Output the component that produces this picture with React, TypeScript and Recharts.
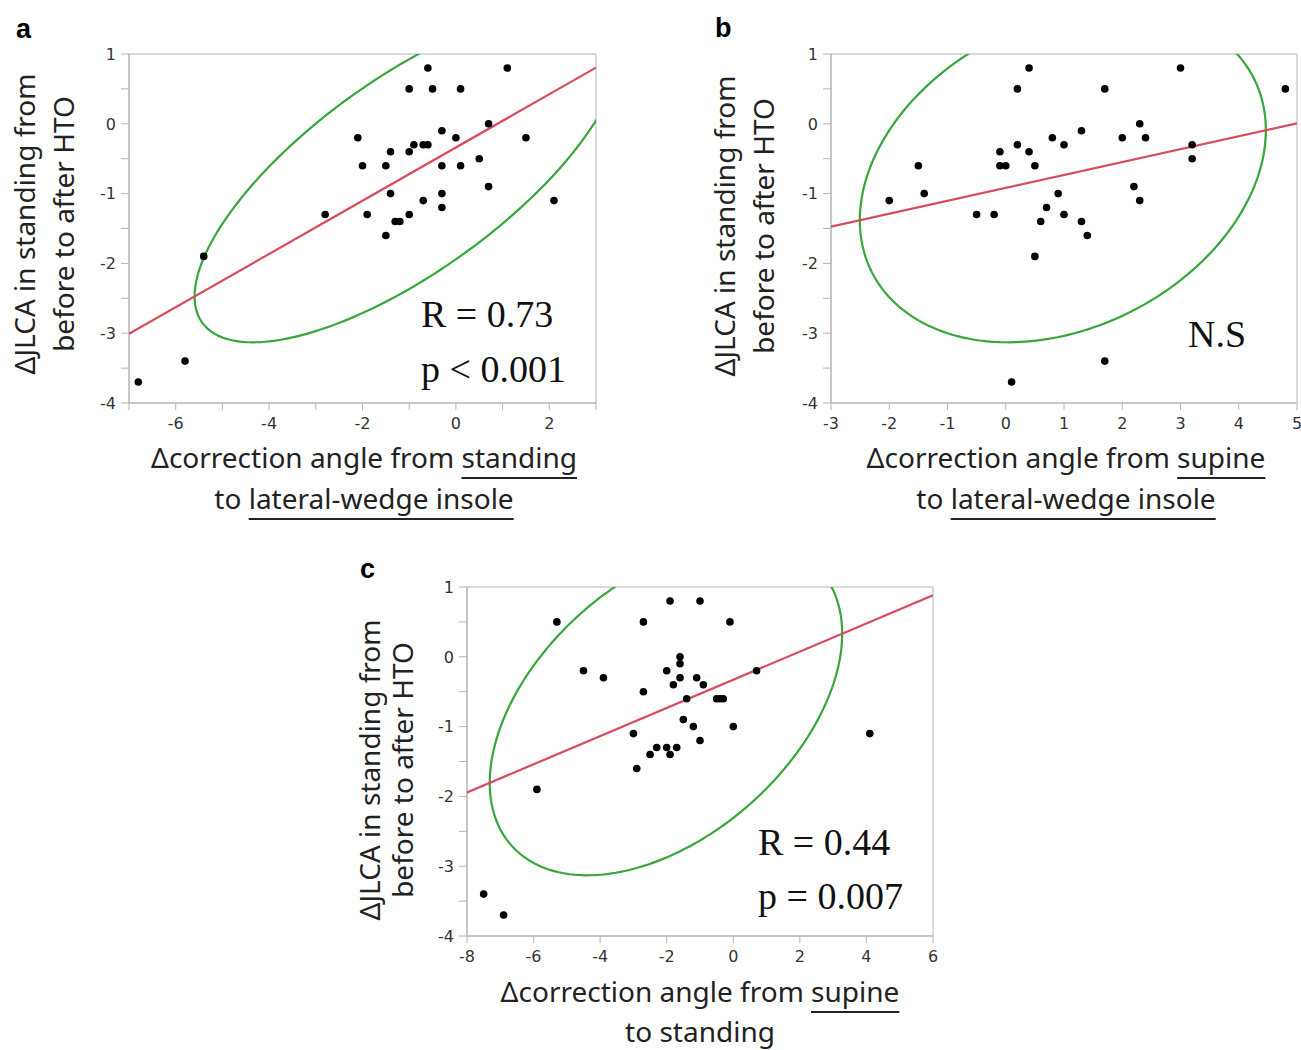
import React from "react";
import {
  ScatterChart, Scatter, XAxis, YAxis, ReferenceArea,
} from "recharts";

// panel a: correction angle standing -> insole vs dJLCA
const aX = [-0.6, 1.1, -1.0, -0.5, 0.1, 0.7, -2.1, -0.3, 0.0, 1.5, -0.9, -0.7, -0.6, -1.4, -1.0, -2.0, -1.5, -0.3, 0.1, 0.5, 0.7, -1.4, -0.3, -0.7, -0.3, 2.1, -2.8, -1.9, -1.0, -1.3, -1.2, -1.5, -5.4, -5.8, -6.8];
const aY = [0.8, 0.8, 0.5, 0.5, 0.5, 0.0, -0.2, -0.1, -0.2, -0.2, -0.3, -0.3, -0.3, -0.4, -0.4, -0.6, -0.6, -0.6, -0.6, -0.5, -0.9, -1.0, -1.0, -1.1, -1.2, -1.1, -1.3, -1.3, -1.3, -1.4, -1.4, -1.6, -1.9, -3.4, -3.7];

// panel b: supine -> insole
const bX = [0.4, 3.0, 0.2, 1.7, 4.8, 2.3, 1.3, 0.8, 2.0, 2.4, 0.2, 1.0, 3.2, -0.1, 0.4, -1.5, -0.1, 0.0, 0.5, 3.2, 2.2, -2.0, -1.4, 0.9, 2.3, 0.7, -0.5, -0.2, 1.0, 0.6, 1.3, 1.4, 0.5, 1.7, 0.1];
const bY = [0.8, 0.8, 0.5, 0.5, 0.5, 0.0, -0.1, -0.2, -0.2, -0.2, -0.3, -0.3, -0.3, -0.4, -0.4, -0.6, -0.6, -0.6, -0.6, -0.5, -0.9, -1.1, -1.0, -1.0, -1.1, -1.2, -1.3, -1.3, -1.3, -1.4, -1.4, -1.6, -1.9, -3.4, -3.7];

// panel c: supine -> standing
const cX = [-1.9, -1.0, -5.3, -2.7, -0.1, -1.6, -1.6, -4.5, -2.0, 0.7, -3.9, -1.6, -1.1, -1.8, -0.9, -2.7, -1.4, -0.5, -0.4, -0.3, -1.5, -1.2, 0.0, -3.0, -1.0, -2.3, -2.0, -1.7, -2.5, -1.9, -2.9, -5.9, -7.5, -6.9, 4.1];
const cY = [0.8, 0.8, 0.5, 0.5, 0.5, 0.0, -0.1, -0.2, -0.2, -0.2, -0.3, -0.3, -0.3, -0.4, -0.4, -0.5, -0.6, -0.6, -0.6, -0.6, -0.9, -1.0, -1.0, -1.1, -1.2, -1.3, -1.3, -1.3, -1.4, -1.4, -1.6, -1.9, -3.4, -3.7, -1.1];

const aXTicks = [-7, -6, -5, -4, -3, -2, -1, 0, 1, 2, 3];
const bXTicks = [-3, -2, -1, 0, 1, 2, 3, 4, 5];
const cXTicks = [-8, -6, -4, -2, 0, 2, 4, 6];
const yTicks = [-4, -3.5, -3, -2.5, -2, -1.5, -1, -0.5, 0, 0.5, 1];

const RED = "#d74c5c";
const GREEN = "#37a63b";
const FRAME = "#b4b4b4";
const CHI2_95 = 5.991;
const TITLE_FONT = "'Noto Sans', sans-serif";
const TICK_FONT = "'DejaVu Sans', Verdana, sans-serif";

function fitStats(xs: number[], ys: number[]) {
  const n = xs.length;
  const mx = xs.reduce((s, v) => s + v, 0) / n;
  const my = ys.reduce((s, v) => s + v, 0) / n;
  let sxx = 0, syy = 0, sxy = 0;
  for (let i = 0; i < n; i++) {
    sxx += (xs[i] - mx) ** 2;
    syy += (ys[i] - my) ** 2;
    sxy += (xs[i] - mx) * (ys[i] - my);
  }
  return { mx, my, sx: Math.sqrt(sxx / (n - 1)), sy: Math.sqrt(syy / (n - 1)), r: sxy / Math.sqrt(sxx * syy), slope: sxy / sxx };
}

// 95% bivariate normal density ellipse
function ellipse(xs: number[], ys: number[]) {
  const { mx, my, sx, sy, r } = fitStats(xs, ys);
  const k = Math.sqrt(CHI2_95);
  const pts = [];
  for (let i = 0; i <= 240; i++) {
    const t = (i / 240) * Math.PI * 2;
    pts.push({
      x: mx + k * sx * Math.cos(t),
      y: my + k * sy * (r * Math.cos(t) + Math.sqrt(1 - r * r) * Math.sin(t)),
    });
  }
  return pts;
}

function fitLine(xs: number[], ys: number[], domain: number[]) {
  const { mx, my, slope } = fitStats(xs, ys);
  return domain.map((x) => ({ x, y: my + slope * (x - mx) }));
}

const noDot = () => <g />;
const dot = (p: any) => <circle cx={p.cx} cy={p.cy} r={3.8} fill="#000" />;

const XTick = ({ x, y, payload, labelEven }: any) => {
  const v = payload.value;
  if (labelEven && v % 2 !== 0) return <g />;
  return (
    <text x={x} y={y} dy="0.71em" textAnchor="middle" fontSize={16} fill="#333" fontFamily={TICK_FONT}>{v}</text>
  );
};

const YTick = ({ x, y, payload }: any) => {
  const v = payload.value;
  if (!Number.isInteger(v)) return <g />;
  return (
    <text x={x} y={y} dy="0.36em" textAnchor="end" fontSize={16} fill="#333" fontFamily={TICK_FONT}>{v}</text>
  );
};

interface PanelProps {
  xs: number[];
  ys: number[];
  xDomain: number[];
  xTicks: number[];
  labelEven?: boolean;
  left: number;
  top: number;
  w: number;
  h: number;
}

function Panel({ xs, ys, xDomain, xTicks, labelEven, left, top, w, h }: PanelProps) {
  const pts = xs.map((x, i) => ({ x, y: ys[i] }));
  const ell = ellipse(xs, ys);
  const reg = fitLine(xs, ys, xDomain);
  const yW = 60, mTop = 13, mRight = 12, xH = 40;
  return (
    <div style={{ position: "absolute", left: left - yW, top: top - mTop }}>
      <ScatterChart width={yW + w + mRight} height={mTop + h + xH} margin={{ top: mTop, right: mRight, left: 0, bottom: 0 }}>
        <XAxis
          type="number" dataKey="x" domain={xDomain} ticks={xTicks} allowDataOverflow
          height={xH} tickSize={7} tickMargin={8} stroke={FRAME}
          tick={<XTick labelEven={labelEven} />}
        />
        <YAxis
          type="number" dataKey="y" domain={[-4, 1]} ticks={yTicks} allowDataOverflow
          width={yW} tickSize={8} tickMargin={5} stroke={FRAME} tick={<YTick />}
        />
        <ReferenceArea x1={xDomain[0]} x2={xDomain[1]} y1={-4} y2={1} fill="none" stroke={FRAME} strokeWidth={1} />
        <Scatter data={ell} line={{ stroke: GREEN, strokeWidth: 2.2 }} shape={noDot} isAnimationActive={false} />
        <Scatter data={reg} line={{ stroke: RED, strokeWidth: 2.2 }} shape={noDot} isAnimationActive={false} />
        <Scatter data={pts} shape={dot} isAnimationActive={false} />
      </ScatterChart>
    </div>
  );
}

function XTitle({ cx, top, lh, children }: { cx: number; top: number; lh: number; children: React.ReactNode }) {
  return (
    <div style={{
      position: "absolute", left: cx - 300, top, width: 600, textAlign: "center",
      fontFamily: TITLE_FONT, fontSize: 28, lineHeight: `${lh}px`, color: "#222", whiteSpace: "nowrap",
    }}>
      {children}
    </div>
  );
}

function YTitle({ cx, cy, lh }: { cx: number; cy: number; lh: number }) {
  return (
    <div style={{
      position: "absolute", left: cx - 200, top: cy - lh, width: 400, height: lh * 2,
      textAlign: "center", fontFamily: TITLE_FONT, fontSize: 28, lineHeight: `${lh}px`,
      color: "#222", transform: "rotate(-90deg)", whiteSpace: "nowrap",
    }}>
      ΔJLCA in standing from<br />before to after HTO
    </div>
  );
}

const U = ({ children }: { children: React.ReactNode }) => (
  <span style={{ textDecoration: "underline", textUnderlineOffset: "9px", textDecorationThickness: "1.5px" }}>{children}</span>
);

export default function App() {
  return (
    <div style={{ position: "absolute", left: 0, top: 0, width: 1301, height: 1050, background: "#fff", overflow: "hidden" }}>
      <Panel xs={aX} ys={aY} xDomain={[-7, 3]} xTicks={aXTicks} labelEven left={129} top={54} w={467} h={349} />
      <Panel xs={bX} ys={bY} xDomain={[-3, 5]} xTicks={bXTicks} left={831} top={54} w={466} h={349} />
      <Panel xs={cX} ys={cY} xDomain={[-8, 6]} xTicks={cXTicks} left={467} top={587} w={466} h={349} />

      <YTitle cx={44} cy={224} lh={39} />
      <YTitle cx={744} cy={226} lh={39} />
      <YTitle cx={386} cy={770} lh={33} />

      <XTitle cx={364} top={437} lh={41}>
        Δcorrection angle from <U>standing</U><br />to <U>lateral-wedge insole</U>
      </XTitle>
      <XTitle cx={1066} top={437} lh={41}>
        Δcorrection angle from <U>supine</U><br />to <U>lateral-wedge insole</U>
      </XTitle>
      <XTitle cx={700} top={971} lh={40}>
        Δcorrection angle from <U>supine</U><br />to standing
      </XTitle>

      <svg width={1301} height={1050} style={{ position: "absolute", left: 0, top: 0, pointerEvents: "none" }}>
        <g fontFamily="'Liberation Sans', Arial, sans-serif" fontWeight="bold" fontSize={27} fill="#000">
          <text x={16} y={38}>a</text>
          <text x={715} y={37}>b</text>
          <text x={360} y={578}>c</text>
        </g>
        <g fontFamily="'Liberation Serif', 'Times New Roman', serif" fontSize={38} fill="#111">
          <text x={421} y={327}>R = 0.73</text>
          <text x={421} y={382}>p &lt; 0.001</text>
          <text x={1188} y={347}>N.S</text>
          <text x={758} y={855}>R = 0.44</text>
          <text x={758} y={909}>p = 0.007</text>
        </g>
      </svg>
    </div>
  );
}
